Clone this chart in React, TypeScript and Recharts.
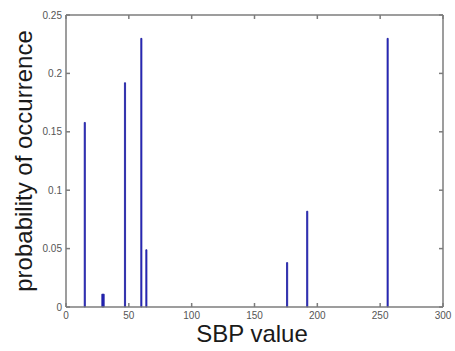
import React from 'react';
import { BarChart, Bar, XAxis, YAxis } from 'recharts';

const sbpValues = [15, 29, 30, 47, 60, 64, 176, 192, 256];
const probabilities = [0.158, 0.011, 0.011, 0.192, 0.23, 0.049, 0.038, 0.082, 0.23];
const xTicks = [0, 50, 100, 150, 200, 250, 300];
const yTicks = [0, 0.05, 0.1, 0.15, 0.2, 0.25];

const chartData = sbpValues.map((sbp, i) => ({ sbp, prob: probabilities[i] }));

const axisColor = '#7c7c7c';
const tickStyle = { fill: '#555', fontSize: 10, fontFamily: 'Liberation Sans, Arial, sans-serif' };
const labelFont = 'Liberation Sans, Arial, sans-serif';

const App: React.FC = () => {
  return (
    <div style={{ position: 'absolute', left: 0, top: 0, width: 455, height: 351, background: '#fff' }}>
      <BarChart width={455} height={351} data={chartData} margin={{ top: 14, right: 11, left: 0, bottom: 0 }}>
        <XAxis
          dataKey="sbp"
          type="number"
          domain={[0, 300]}
          ticks={xTicks}
          height={44}
          stroke={axisColor}
          strokeWidth={1.5}
          tickSize={-4}
          tickMargin={9}
          tick={tickStyle}
          label={{
            content: () => (
              <text x={252} y={342} textAnchor="middle" fontSize={24} fontFamily={labelFont} fill="#1a1a1a">
                SBP value
              </text>
            ),
          }}
        />
        <XAxis
          xAxisId="top"
          dataKey="sbp"
          type="number"
          orientation="top"
          domain={[0, 300]}
          ticks={xTicks}
          height={1}
          stroke={axisColor}
          strokeWidth={1.5}
          tickSize={-4}
          tickFormatter={() => ''}
        />
        <YAxis
          type="number"
          domain={[0, 0.25]}
          ticks={yTicks}
          width={66}
          stroke={axisColor}
          strokeWidth={1.5}
          tickSize={-4}
          tickMargin={8}
          tick={tickStyle}
          label={{
            content: () => (
              <text
                x={32}
                y={161}
                transform="rotate(-90 32 161)"
                textAnchor="middle"
                fontSize={24}
                fontFamily={labelFont}
                fill="#1a1a1a"
              >
                probability of occurrence
              </text>
            ),
          }}
        />
        <YAxis
          yAxisId="right"
          orientation="right"
          type="number"
          domain={[0, 0.25]}
          ticks={yTicks}
          width={1}
          stroke={axisColor}
          strokeWidth={1.5}
          tickSize={-4}
          tickFormatter={() => ''}
        />
        <Bar dataKey="prob" fill="#2a2ad8" stroke="#1b1b99" strokeWidth={0.8} barSize={2.6} isAnimationActive={false} />
        <Bar dataKey="prob" xAxisId="top" yAxisId="right" fill="none" barSize={0} isAnimationActive={false} legendType="none" />
      </BarChart>
    </div>
  );
};

export default App;
